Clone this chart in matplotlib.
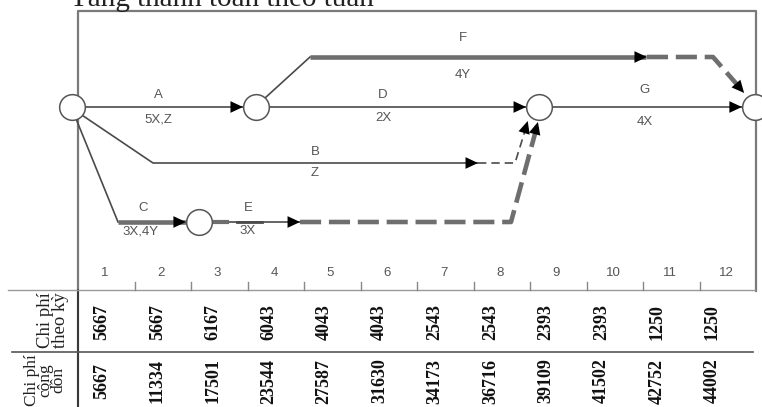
import numpy as np
import matplotlib.pyplot as plt

# data #
weeks = list(range(1, 13))
cost_period = [5667, 5667, 6167, 6043, 4043, 4043, 2543, 2543, 2393, 2393, 1250, 1250]
cost_cum = [5667, 11334, 17501, 23544, 27587, 31630, 34173, 36716, 39109, 41502, 42752, 44002]

act_names = ["A", "B", "C", "D", "E", "F", "G"]
act_res = ["5X,Z", "Z", "3X,4Y", "2X", "3X", "4Y", "4X"]
act_start = [0, 0, 0, 3, 2, 3, 8]
act_finish = [3, 7, 2, 8, 4, 10, 12]

title = "Tăng thanh toán theo tuần"
row_labels = ["Chi phí\ntheo kỳ", "Chi phí\ncộng\ndồn"]

# layout (pixels -> weeks on x) #
W = 56.5
X0 = 78.
def wx(px):
    return (px - X0) / W

THIN = "#4a4a4a"
THICK = "#6e6e6e"
FRAME = "#7a7a7a"
R = 13. / W  # node radius in weeks
DASH_THICK = (4.6, 1.7)
DASH_THIN = (5, 3)


def head(ax, p_from, p_to):
    ax.annotate("", xy=p_to, xytext=p_from,
                arrowprops=dict(arrowstyle="-|>,head_length=0.6,head_width=0.28",
                                color="black", lw=0, shrinkA=0, shrinkB=0,
                                mutation_scale=15), zorder=6)


def main():
    fig = plt.figure(figsize=(7.62, 4.07), dpi=100)
    ax = fig.add_axes([0, 0, 1, 1])
    ax.set_xlim(wx(0), wx(762))
    ax.set_ylim(407, 0)
    ax.axis("off")

    # title (cut at top, as in the source) #
    ax.text(wx(70), 6, title, family="Liberation Serif", fontsize=21,
            ha="left", va="baseline", color="#222")

    # frame #
    ax.plot([0, 0, 12, 12], [407, 11, 11, 291], color=FRAME, lw=1.6, zorder=1)
    ax.plot([0, 0], [290, 407], color="#333", lw=1.3, zorder=2)
    ax.plot([wx(8), wx(755)], [290, 290], color="#999", lw=1.0)
    ax.plot([wx(12), wx(753)], [352, 352], color="#555", lw=1.2)

    # week ticks and labels #
    for k in range(1, 12):
        ax.plot([k, k], [282, 290], color="#888", lw=1.0)
    for w in weeks:
        ax.text(w - 0.5 - 0.03, 273, str(w), ha="center", va="center",
                fontsize=9.5, color="#555", family="Liberation Sans")

    # event times from activities #
    tA = act_finish[0]
    tD = act_finish[3]
    tC = act_finish[2]
    tEnd = act_finish[6]
    yF, yM, yB, yC = 57, 107, 163, 222
    n1 = (wx(72), yM)
    n2 = (tA + 0.15, yM)
    n3 = (tD + 0.16, yM)
    n4 = (tEnd - 0.02, yM)
    nC = (tC + 0.14, yC)

    # A #
    ax.plot([n1[0] + R, n2[0] - R], [yM, yM], color=THIN, lw=1.2)
    head(ax, (n2[0] - R - 0.4, yM), (n2[0] - R, yM))
    # D #
    ax.plot([n2[0] + R, n3[0] - R], [yM, yM], color=THIN, lw=1.2)
    head(ax, (n3[0] - R - 0.4, yM), (n3[0] - R, yM))
    # G #
    ax.plot([n3[0] + R, n4[0] - R], [yM, yM], color=THIN, lw=1.2)
    head(ax, (n4[0] - R - 0.4, yM), (n4[0] - R, yM))

    # F #
    fF = act_finish[5]
    ax.plot([n2[0] + 0.16, wx(310)], [yM - 9, yF], color=THIN, lw=1.2)
    ax.plot([wx(310), fF + 0.05], [yF, yF], color=THICK, lw=3.3, solid_capstyle="butt")
    head(ax, (fF - 0.4, yF), (fF + 0.07, yF))
    ax.plot([fF + 0.07, wx(713), n4[0] - 0.2], [yF, yF, yM - 15], color=THICK, lw=3.3,
            dashes=DASH_THICK)
    head(ax, (wx(713), yF), (n4[0] - 0.19, yM - 14))

    # B #
    fB = act_finish[1]
    ax.plot([n1[0] + 0.2, wx(153), fB + 0.07], [yM + 9, yB, yB], color=THIN, lw=1.2)
    head(ax, (fB - 0.4, yB), (fB + 0.08, yB))
    ax.plot([fB + 0.08, wx(515), n3[0] - 0.2], [yB, yB, yM + 15], color=THIN, lw=1.2,
            dashes=DASH_THIN)
    head(ax, (wx(515), yB), (n3[0] - 0.2, yM + 14))

    # C #
    ax.plot([n1[0] + 0.08, wx(118)], [yM + 13, yC], color=THIN, lw=1.2)
    ax.plot([wx(118), nC[0] - R], [yC, yC], color=THICK, lw=3.3, solid_capstyle="butt")
    head(ax, (nC[0] - R - 0.4, yC), (nC[0] - R, yC))

    # E #
    fE = act_finish[4]
    ax.plot([nC[0] + R, fE - 0.05], [yC, yC], color=THIN, lw=1.2)
    ax.plot([nC[0] + R, wx(227)], [yC, yC], color=THICK, lw=3.0)
    ax.plot([wx(237), wx(262)], [yC, yC], color=THIN, lw=2.0)
    head(ax, (fE - 0.5, yC), (fE - 0.07, yC))
    ax.plot([fE - 0.07, wx(511), n3[0] - 0.02], [yC, yC, yM + 16], color=THICK, lw=3.3,
            dashes=DASH_THICK)
    head(ax, (wx(511), yC), (n3[0] - 0.02, yM + 15))

    # nodes #
    for n in (n1, n2, n3, n4, nC):
        ax.plot(n[0], n[1], "o", ms=18.5, mfc="white", mec="#555", mew=1.1, zorder=7)

    # activity labels #
    lab_x = {"A": wx(158), "B": wx(315), "C": wx(143), "D": wx(383), "E": wx(248),
             "F": wx(463), "G": wx(645)}
    lab_y = {"A": (95, 120), "B": (152, 173), "C": (208, 232), "D": (95, 118),
             "E": (208, 231), "F": (38, 75), "G": (90, 122)}
    for name, res in zip(act_names, act_res):
        xa = lab_x[name]
        ya, yb = lab_y[name]
        ax.text(xa, ya, name, ha="center", va="center", fontsize=9.5,
                color="#555", family="Liberation Sans")
        xr = xa - 0.05 if name == "C" else xa
        ax.text(xr, yb, res, ha="center", va="center", fontsize=9.5,
                color="#555", family="Liberation Sans")

    # table #
    ax.text(wx(53), 320, row_labels[0], rotation=90, ha="center", va="center",
            family="Liberation Serif", fontsize=13.5, linespacing=0.8, color="#222")
    ax.text(wx(45), 380, row_labels[1], rotation=90, ha="center", va="center",
            family="Liberation Serif", fontsize=12.5, linespacing=0.78, color="#222")
    for i, (cp, cc) in enumerate(zip(cost_period, cost_cum)):
        xv = wx(102 + 55.5 * i)
        ax.text(xv, 322, str(cp), rotation=90, ha="center", va="center",
                family="Liberation Serif", fontsize=13, fontweight="bold", color="#111")
        ax.text(xv, 381, str(cc), rotation=90, ha="center", va="center",
                family="Liberation Serif", fontsize=13, fontweight="bold", color="#111")

    fig.savefig("out.png", dpi=100)
    plt.close(fig)


if __name__ == "__main__":
    main()
